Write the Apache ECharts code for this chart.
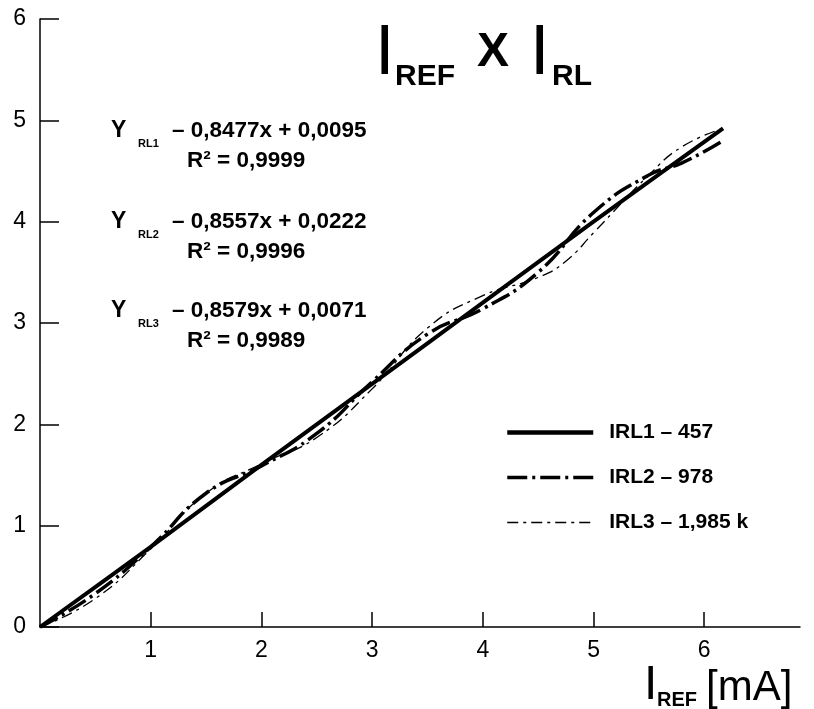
<!DOCTYPE html>
<html>
<head>
<meta charset="utf-8">
<script src="https://cdn.jsdelivr.net/npm/echarts@6/dist/echarts.min.js"></script>
<style>
  html, body { margin: 0; padding: 0; background: #fff; }
  #main { width: 814px; height: 709px; }
</style>
</head>
<body>
<div id="main"></div>
<script>
var x1 = [0, 1, 2, 3, 4, 5, 6.17];
var y1 = [0, 0.79, 1.6, 2.4, 3.2, 4.0, 4.92];

var x2 = [0, 0.5, 1, 1.5, 2, 2.5, 3, 3.5, 4, 4.5, 5, 5.5, 5.8, 6.17];
var y2 = [0, 0.33, 0.79, 1.32, 1.59, 1.91, 2.42, 2.89, 3.14, 3.5, 4.09, 4.46, 4.58, 4.8];

var x3 = [0, 0.5, 1, 1.5, 2, 2.5, 3, 3.5, 4, 4.5, 4.75, 5, 5.5, 5.8, 6.17];
var y3 = [0, 0.28, 0.77, 1.32, 1.61, 1.87, 2.35, 2.95, 3.27, 3.45, 3.61, 3.89, 4.46, 4.74, 4.92];

var names = ['IRL1 \u2013 457', 'IRL2 \u2013 978', 'IRL3 \u2013 1,985 k'];
var xTicks = [1, 2, 3, 4, 5, 6];
var yTicks = [0, 1, 2, 3, 4, 5, 6];

var equations = [
    { sub: 'RL1', fit: '\u2013 0,8477x + 0,0095', r2: 'R\u00b2 = 0,9999' },
    { sub: 'RL2', fit: '\u2013 0,8557x + 0,0222', r2: 'R\u00b2 = 0,9996' },
    { sub: 'RL3', fit: '\u2013 0,8579x + 0,0071', r2: 'R\u00b2 = 0,9989' }
];

var FONT = '"Liberation Sans", Arial, Helvetica, sans-serif';

function pairs(xs, ys) {
    return xs.map(function (x, i) { return [x, ys[i]]; });
}

function txt(text, x, y, size, weight) {
    return {
        type: 'text', x: x, y: y, silent: true,
        style: {
            text: text, fill: '#000', fontFamily: FONT,
            fontSize: size, fontWeight: weight || 'bold',
            verticalAlign: 'middle', align: 'left'
        }
    };
}

var graphics = [
    // title  I_REF X I_RL
    txt('I', 375, 55, 70, 'normal'),
    txt('REF', 395, 77, 30),
    txt('X', 477, 53, 48),
    txt('I', 530, 55, 70, 'normal'),
    txt('RL', 552, 77, 30),
    // axis name  I_REF [mA]
    txt('I', 644, 686, 48, 'normal'),
    txt('REF', 657, 700, 20),
    txt('[mA]', 706, 688, 42, 'normal')
];

var eqY = [131, 222, 311];
equations.forEach(function (e, i) {
    var y = eqY[i];
    graphics.push(txt('Y', 111, y, 23));
    graphics.push(txt(e.sub, 138, y + 13, 11));
    graphics.push(txt(e.fit, 172, y, 22.5));
    graphics.push(txt(e.r2, 187, y + 30, 22.5));
});

var chart = echarts.init(document.getElementById('main'));
chart.setOption({
    animation: false,
    backgroundColor: '#fff',
    grid: { left: 40, right: 14, top: 19, bottom: 82 },
    legend: {
        orient: 'vertical',
        left: 500,
        top: 417,
        itemWidth: 86,
        itemHeight: 14,
        itemGap: 24,
        selectedMode: false,
        itemStyle: { opacity: 0 },
        data: [
            { name: names[0], lineStyle: { width: 4.5 } },
            { name: names[1], lineStyle: { width: 3.5 } },
            { name: names[2], lineStyle: { width: 1.3 } }
        ],
        textStyle: {
            fontFamily: FONT, fontSize: 21, fontWeight: 'bold', color: '#000',
            padding: [0, 0, 0, 11]
        }
    },
    xAxis: {
        type: 'value',
        min: 0,
        max: 6.865,
        splitLine: { show: false },
        axisLine: { lineStyle: { color: '#000', width: 1.5 } },
        axisTick: { inside: true, length: 15, customValues: xTicks, lineStyle: { color: '#000', width: 1.5 } },
        axisLabel: { customValues: xTicks, margin: 12, color: '#000', fontSize: 23, fontFamily: FONT }
    },
    yAxis: {
        type: 'value',
        min: 0,
        max: 6,
        interval: 1,
        splitLine: { show: false },
        axisLine: { show: true, lineStyle: { color: '#000', width: 1.5 } },
        axisTick: { show: true, inside: true, length: 19, customValues: yTicks, lineStyle: { color: '#000', width: 1.5 } },
        axisLabel: { customValues: yTicks, margin: 14, color: '#000', fontSize: 23, fontFamily: FONT }
    },
    series: [
        {
            name: names[0], type: 'line', data: pairs(x1, y1), smooth: 0.3,
            symbol: 'none', color: '#000',
            lineStyle: { color: '#000', width: 4 }
        },
        {
            name: names[1], type: 'line', data: pairs(x2, y2), smooth: 0.5,
            symbol: 'none', color: '#000',
            lineStyle: { color: '#000', width: 3.5, type: [20, 5, 3, 5] }
        },
        {
            name: names[2], type: 'line', data: pairs(x3, y3), smooth: 0.5,
            symbol: 'none', color: '#000',
            lineStyle: { color: '#000', width: 1.3, type: [11, 5, 3, 5] }
        }
    ],
    graphic: graphics
});
</script>
</body>
</html>
